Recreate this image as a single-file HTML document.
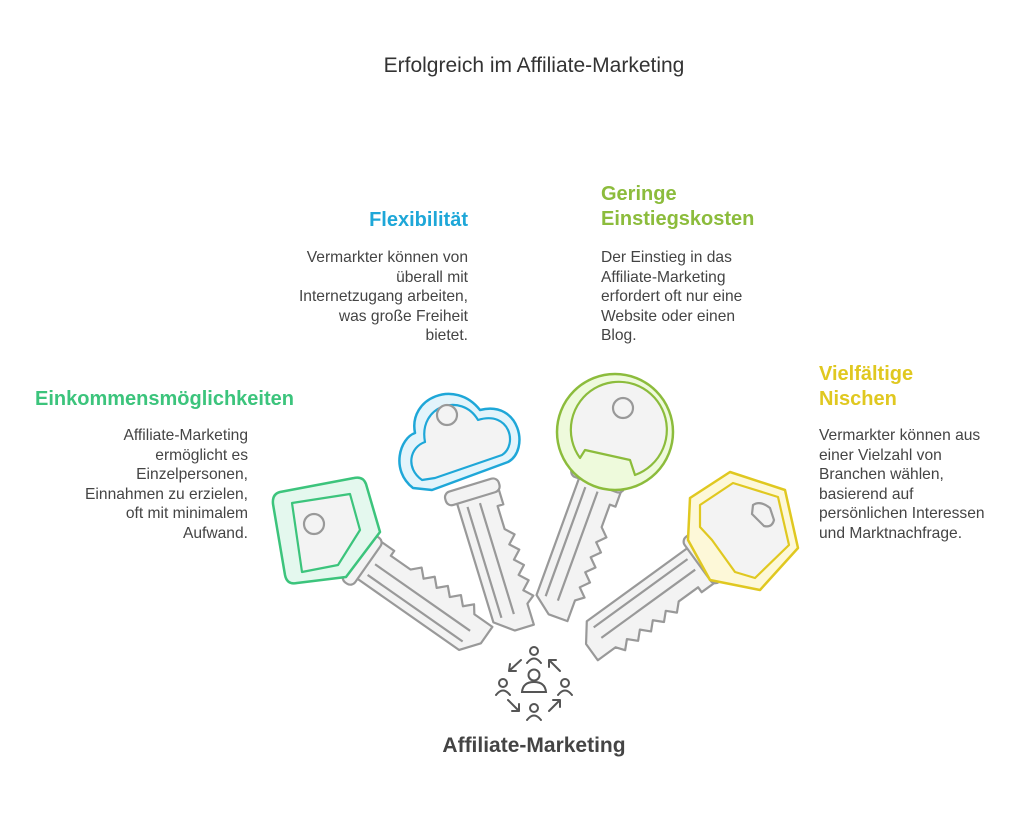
<!DOCTYPE html>
<html><head><meta charset="utf-8"><style>
body{margin:0;width:1024px;height:838px;background:#fff;position:relative;overflow:hidden;font-family:"Liberation Sans",sans-serif;color:#444}
.t{position:absolute;white-space:nowrap}
.h{font-weight:bold;font-size:20px;line-height:25px}
.b{font-size:15.6px;line-height:19.5px}
.r{text-align:right}
</style></head><body>
<div class="t" style="left:0;width:1068px;text-align:center;top:54px;font-size:21px;color:#333">Erfolgreich im Affiliate-Marketing</div>

<div class="t h r" style="right:730px;top:387px;color:#3cc47c">Einkommensmöglichkeiten</div>
<div class="t b r" style="right:776px;top:426px">Affiliate-Marketing<br>ermöglicht es<br>Einzelpersonen,<br>Einnahmen zu erzielen,<br>oft mit minimalem<br>Aufwand.</div>

<div class="t h r" style="right:556px;top:208px;color:#1ea7d8">Flexibilität</div>
<div class="t b r" style="right:556px;top:248px">Vermarkter können von<br>überall mit<br>Internetzugang arbeiten,<br>was große Freiheit<br>bietet.</div>

<div class="t h" style="left:601px;top:182px;color:#8cbc3c">Geringe<br>Einstiegskosten</div>
<div class="t b" style="left:601px;top:248px">Der Einstieg in das<br>Affiliate-Marketing<br>erfordert oft nur eine<br>Website oder einen<br>Blog.</div>

<div class="t h" style="left:819px;top:362px;color:#e0c820">Vielfältige<br>Nischen</div>
<div class="t b" style="left:819px;top:426px">Vermarkter können aus<br>einer Vielzahl von<br>Branchen wählen,<br>basierend auf<br>persönlichen Interessen<br>und Marktnachfrage.</div>

<div class="t" style="left:0;width:1068px;text-align:center;top:734px;font-size:21px;font-weight:bold;color:#444">Affiliate-Marketing</div>

<svg width="1024" height="838" style="position:absolute;left:0;top:0">
<defs>
<g id="blade" fill="#f3f3f3" stroke="#999" stroke-width="2.2" stroke-linejoin="round">
<path d="M48,-18 L180,-18 L194,0 L194,20 L172,20 L166,28 L158,20 L150,28 L142,20 L134,28 L126,20 L118,28 L110,20 L102,28 L94,20 L70,20 L70,26 L48,26 Z"/>
<path d="M62,-9 L178,-9 M62,4 L178,4" fill="none"/>
<rect x="42" y="-28" width="14" height="56" rx="6"/>
</g>
</defs>
<!-- green -->
<g transform="translate(322,532) rotate(35) scale(1,-1)"><use href="#blade"/></g>
<path d="M280,492 Q272,494 273,504 L285,575 Q287,585 297,583 L346,577 L380,532 L366,484 Q363,476 354,478 Z" fill="#e4f8ee" stroke="#3cc47c" stroke-width="2.5" stroke-linejoin="round"/>
<path d="M292,503 L350,494 L360,530 L338,565 L302,572 Z" fill="#f3f3f3" stroke="#3cc47c" stroke-width="2.2" stroke-linejoin="round"/>
<circle cx="314" cy="524" r="10" fill="#f3f3f3" stroke="#999" stroke-width="2.2"/>
<!-- blue -->
<g transform="translate(458,445) rotate(73) scale(1,-1)"><use href="#blade"/></g>
<path d="M413,488 C390,470 400,438 415,433 C408,398 455,378 480,410 C520,400 530,450 508,462 L432,490 Z" fill="#e3f4fb" stroke="#1ea7d8" stroke-width="2.5" stroke-linejoin="round"/>
<path d="M422,480 C405,468 410,447 425,442 C418,405 462,392 478,420 C510,410 518,445 502,455 L435,478 Z" fill="#f3f3f3" stroke="#1ea7d8" stroke-width="2.2" stroke-linejoin="round"/>
<circle cx="447" cy="415" r="10" fill="#f3f3f3" stroke="#999" stroke-width="2.2"/>
<!-- lime -->
<g transform="translate(615,432) rotate(110) scale(1,-1)"><use href="#blade"/></g>
<circle cx="615" cy="432" r="58" fill="#eefadc" stroke="#8cbc3c" stroke-width="2.5"/>
<path d="M580,458 A48,48 0 1 1 635,475 L630,460 L585,450 Z" fill="#f3f3f3" stroke="#8cbc3c" stroke-width="2.2" stroke-linejoin="round"/>
<circle cx="623" cy="408" r="10" fill="#f3f3f3" stroke="#999" stroke-width="2.2"/>
<!-- yellow -->
<g transform="translate(743,530) rotate(144) scale(1,-1)"><use href="#blade"/></g>
<path d="M730,472 L785,490 L798,548 L760,590 L710,580 L688,540 L690,498 Z" fill="#fdf8d8" stroke="#e0c820" stroke-width="2.5" stroke-linejoin="round"/>
<path d="M733,483 L778,497 L789,545 L755,578 L735,572 L712,540 L700,527 L700,505 Z" fill="#f3f3f3" stroke="#e0c820" stroke-width="2.2" stroke-linejoin="round"/>
<path d="M753,505 Q760,500 770,508 L774,520 Q772,528 764,526 L752,514 Z" fill="#f3f3f3" stroke="#999" stroke-width="2.2"/>
<!-- icon -->
<g fill="none" stroke="#555" stroke-width="2" stroke-linecap="round">
<circle cx="534" cy="651" r="4"/><path d="M527,663 Q534,654 541,663"/>
<circle cx="534" cy="675" r="5.5"/><path d="M522,692 Q523,682 534,682 Q545,682 546,692 Z"/>
<circle cx="503" cy="683" r="4"/><path d="M496,695 Q503,686 510,695"/>
<circle cx="565" cy="683" r="4"/><path d="M558,695 Q565,686 572,695"/>
<circle cx="534" cy="708" r="4"/><path d="M527,720 Q534,711 541,720"/>
<path d="M521,660 L509,671 M509,671 L510,664 M509,671 L516,671"/>
<path d="M560,671 L549,660 M549,660 L556,660 M549,660 L549,667"/>
<path d="M508,700 L519,711 M519,711 L519,704 M519,711 L512,711"/>
<path d="M549,711 L560,700 M560,700 L553,700 M560,700 L560,707"/>
</g>
</svg>
</body></html>
